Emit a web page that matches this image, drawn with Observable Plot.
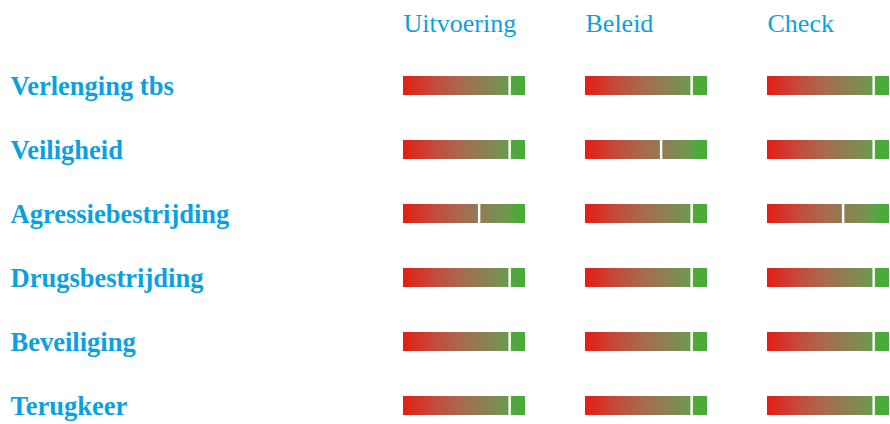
<!DOCTYPE html>
<html>
<head>
<meta charset="utf-8">
<script src="https://cdn.jsdelivr.net/npm/d3@7"></script>
<script src="https://cdn.jsdelivr.net/npm/@observablehq/plot@0.6"></script>
<style>
  html, body { margin: 0; padding: 0; background: #fff; }
  #chart svg { display: block; }
</style>
</head>
<body>
<div id="chart"></div>
<script>
const rows = ["Verlenging tbs", "Veiligheid", "Agressiebestrijding", "Drugsbestrijding", "Beveiliging", "Terugkeer"];
const columns = ["Uitvoering", "Beleid", "Check"];
const uitvoering = [0.87, 0.87, 0.62, 0.87, 0.87, 0.87];
const beleid = [0.87, 0.62, 0.87, 0.87, 0.87, 0.87];
const check = [0.87, 0.87, 0.62, 0.87, 0.87, 0.87];

const series = [uitvoering, beleid, check];
const data = [];
columns.forEach((c, ci) => rows.forEach((r, ri) => data.push({column: c, row: r, value: series[ci][ri]})));

const blue = "#0ba0e0";

const chart = Plot.plot({
  width: 890,
  height: 424,
  marginLeft: 403,
  marginRight: 1,
  marginTop: 40,
  marginBottom: 0,
  style: {fontFamily: "'Liberation Serif', serif", background: "#fff"},
  fx: {domain: columns, paddingInner: 60 / 182, paddingOuter: 0, label: null},
  x: {domain: [0, 1], axis: null},
  y: {domain: rows, range: [53.5, 437.5], paddingInner: 0.703, paddingOuter: 0.3515, label: null},
  marks: [
    Plot.barX(data, {fx: "column", y: "row", x1: 0, x2: 1, fill: "url(#rg)"}),
    Plot.tickX(data, {fx: "column", y: "row", x: "value", stroke: "#fff", strokeWidth: 2.4}),
    Plot.axisFx({anchor: "top", tickSize: 0, tickPadding: 0, textAnchor: "start", dx: -61, dy: -9,
      fontSize: 26, fill: blue, label: null}),
    Plot.axisY({anchor: "left", tickSize: 0, tickPadding: 0, textAnchor: "start", dx: -393, dy: 1,
      fontSize: 26.5, fontWeight: "bold", fill: blue, label: null})
  ]
});

const svg = d3.select(chart);
const defs = svg.insert("defs", ":first-child");
const grad = defs.append("linearGradient").attr("id", "rg").attr("x1", "0").attr("x2", "1").attr("y1", "0").attr("y2", "0");
[[0, "#e31e14"], [0.25, "#c54a3b"], [0.5, "#a46d50"], [0.62, "#927a54"], [0.75, "#7e8b52"], [0.87, "#689c4d"], [0.92, "#4caa3a"], [1, "#4caa3a"]]
  .forEach(([o, c]) => grad.append("stop").attr("offset", o).attr("stop-color", c));

document.getElementById("chart").appendChild(chart);
</script>
</body>
</html>
